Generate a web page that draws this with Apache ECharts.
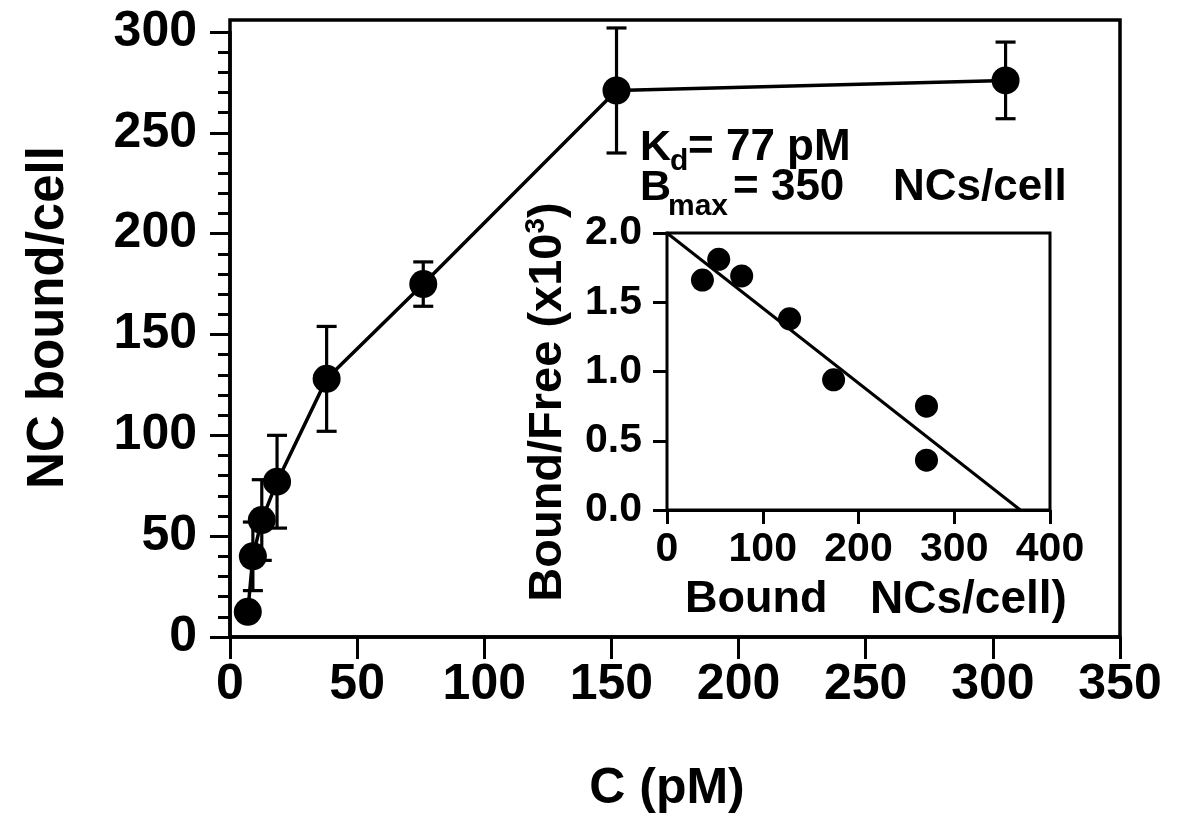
<!DOCTYPE html>
<html>
<head>
<meta charset="utf-8">
<title>NC binding</title>
<script src="https://cdn.jsdelivr.net/npm/echarts@6/dist/echarts.min.js"></script>
<style>
  html, body { margin: 0; padding: 0; background: #fff; }
  #chart { width: 1198px; height: 825px; }
</style>
</head>
<body>
<div id="chart"></div>
<script>
// main plot: NCs bound per cell vs concentration
const concPM = [7, 9, 12.5, 18.5, 38, 76, 152, 305];
const ncBound = [12.5, 40, 58, 77, 128, 175, 271, 276];
const ncErr = [4, 17, 20, 23, 26, 11, 31, 19];
const xTicks = [0, 50, 100, 150, 200, 250, 300, 350];
const yTicks = [0, 50, 100, 150, 200, 250, 300];

// inset: Scatchard plot
const boundNC = [37, 54, 78, 128, 174, 271, 271];
const boundFree = [1.66, 1.81, 1.69, 1.38, 0.94, 0.75, 0.36];
const fitBound = [0, 369];
const fitRatio = [2.0, 0];
const insetXTicks = [0, 100, 200, 300, 400];
const insetYTicks = [0, 0.5, 1.0, 1.5, 2.0];

const FONT = "'Liberation Sans', Arial, sans-serif";
const chart = echarts.init(document.getElementById('chart'));

function txt(str, x, y, size, extra) {
  return Object.assign({
    type: 'text', x: x, y: y, z: 100,
    style: {
      text: str, fill: '#000', fontSize: size, fontWeight: 'bold', fontFamily: FONT,
      align: 'left', verticalAlign: 'middle', textAlign: 'left', textVerticalAlign: 'middle'
    }
  }, extra || {});
}

const errData = concPM.map((c, i) => [c, ncBound[i] - ncErr[i], ncBound[i] + ncErr[i]]);
const mainData = concPM.map((c, i) => [c, ncBound[i]]);
const insetData = boundNC.map((b, i) => [b, boundFree[i]]);
const fitData = fitBound.map((b, i) => [b, fitRatio[i]]);

const labelStyle = { color: '#000', fontSize: 50, fontWeight: 'bold', fontFamily: FONT };
const insetLabel = { color: '#000', fontSize: 41, fontWeight: 'bold', fontFamily: FONT };

const option = {
  animation: false,
  backgroundColor: '#fff',
  grid: [
    { left: 230, right: 78, top: 32, bottom: 188 },
    // frame around main plot
    { left: 230, right: 78, top: 20, bottom: 188, show: true, borderColor: '#000', borderWidth: 3.5, backgroundColor: 'transparent' },
    // inset
    { left: 667, right: 148, top: 233, bottom: 315, show: true, borderColor: '#000', borderWidth: 3, backgroundColor: '#fff', z: 3 }
  ],
  xAxis: [
    {
      type: 'value', gridIndex: 0, min: xTicks[0], max: xTicks[xTicks.length - 1], interval: 50,
      axisLine: { lineStyle: { color: '#000', width: 3.5 } },
      axisTick: { length: 22, lineStyle: { color: '#000', width: 3 } },
      axisLabel: Object.assign({ margin: 23 }, labelStyle),
      splitLine: { show: false },
      name: 'C (pM)', nameLocation: 'middle', nameGap: 127,
      nameTextStyle: { color: '#000', fontSize: 50, fontWeight: 'bold', fontFamily: FONT, padding: [0, 16, 0, 0] }
    },
    { type: 'value', gridIndex: 1, min: 0, max: 350, show: false },
    {
      type: 'value', gridIndex: 2, min: insetXTicks[0], max: insetXTicks[insetXTicks.length - 1], interval: 100,
      axisLine: { lineStyle: { color: '#000', width: 3 } },
      axisTick: { length: 14, lineStyle: { color: '#000', width: 3 } },
      axisLabel: Object.assign({ margin: 19 }, insetLabel),
      splitLine: { show: false }
    }
  ],
  yAxis: [
    {
      type: 'value', gridIndex: 0, min: yTicks[0], max: yTicks[yTicks.length - 1], interval: 50,
      axisLine: { show: true, lineStyle: { color: '#000', width: 3.5 } },
      axisTick: { show: true, length: 20, lineStyle: { color: '#000', width: 3 } },
      minorTick: { show: true, splitNumber: 5, length: 12, lineStyle: { color: '#000', width: 3 } },
      axisLabel: Object.assign({ margin: 33 }, labelStyle),
      splitLine: { show: false },
      minorSplitLine: { show: false },
      name: 'NC bound/cell', nameLocation: 'middle', nameGap: 156, nameRotate: 90,
      nameTextStyle: { color: '#000', fontSize: 51, fontWeight: 'bold', fontFamily: FONT, padding: [0, 0, 0, 34] }
    },
    { type: 'value', gridIndex: 1, min: 0, max: 306, show: false },
    {
      type: 'value', gridIndex: 2, min: insetYTicks[0], max: insetYTicks[insetYTicks.length - 1], interval: 0.5,
      axisLine: { show: true, lineStyle: { color: '#000', width: 3 } },
      axisTick: { show: true, length: 14, lineStyle: { color: '#000', width: 3 } },
      axisLabel: Object.assign({ margin: 25, formatter: v => v.toFixed(1) }, insetLabel),
      splitLine: { show: false }
    }
  ],
  series: [
    {
      type: 'custom', xAxisIndex: 0, yAxisIndex: 0, data: errData, z: 2,
      renderItem: function (params, api) {
        const x = api.value(0);
        const lo = api.coord([x, api.value(1)]);
        const hi = api.coord([x, api.value(2)]);
        const hw = 10;
        const st = { stroke: '#000', lineWidth: 3.2 };
        return {
          type: 'group',
          children: [
            { type: 'line', shape: { x1: hi[0], y1: hi[1], x2: lo[0], y2: lo[1] }, style: st },
            { type: 'line', shape: { x1: hi[0] - hw, y1: hi[1], x2: hi[0] + hw, y2: hi[1] }, style: st },
            { type: 'line', shape: { x1: lo[0] - hw, y1: lo[1], x2: lo[0] + hw, y2: lo[1] }, style: st }
          ]
        };
      }
    },
    {
      type: 'line', xAxisIndex: 0, yAxisIndex: 0, data: mainData, z: 3,
      symbol: 'circle', symbolSize: 28,
      itemStyle: { color: '#000', opacity: 1 },
      lineStyle: { color: '#000', width: 3.5 }
    },
    {
      type: 'line', xAxisIndex: 2, yAxisIndex: 2, data: fitData, z: 4,
      symbol: 'none', lineStyle: { color: '#000', width: 3 }
    },
    {
      type: 'scatter', xAxisIndex: 2, yAxisIndex: 2, data: insetData, z: 5,
      symbol: 'circle', symbolSize: 23, itemStyle: { color: '#000', opacity: 1 }
    }
  ],
  graphic: [
    txt('K', 640, 148, 43),
    txt('d', 670, 162, 30),
    txt('= 77 pM', 688, 148, 44),
    txt('B', 640, 188, 43),
    txt('max', 668, 207, 30),
    txt('= 350', 733, 188, 44),
    txt('NCs/cell', 893, 188, 44),
    txt('Bound', 685, 600, 45),
    txt('NCs/cell)', 870, 600, 46),
    {
      type: 'text', x: 548, y: 402, rotation: Math.PI / 2, z: 100,
      style: {
        text: '{n|Bound/Free (x10}{s|3}{n|)}',
        align: 'center', verticalAlign: 'middle', textAlign: 'center', textVerticalAlign: 'middle',
        rich: {
          n: { fontSize: 47, fontWeight: 'bold', fontFamily: FONT, fill: '#000', color: '#000', lineHeight: 52 },
          s: { fontSize: 28, fontWeight: 'bold', fontFamily: FONT, fill: '#000', color: '#000', verticalAlign: 'top', lineHeight: 30 }
        }
      }
    }
  ]
};

chart.setOption(option);
</script>
</body>
</html>
